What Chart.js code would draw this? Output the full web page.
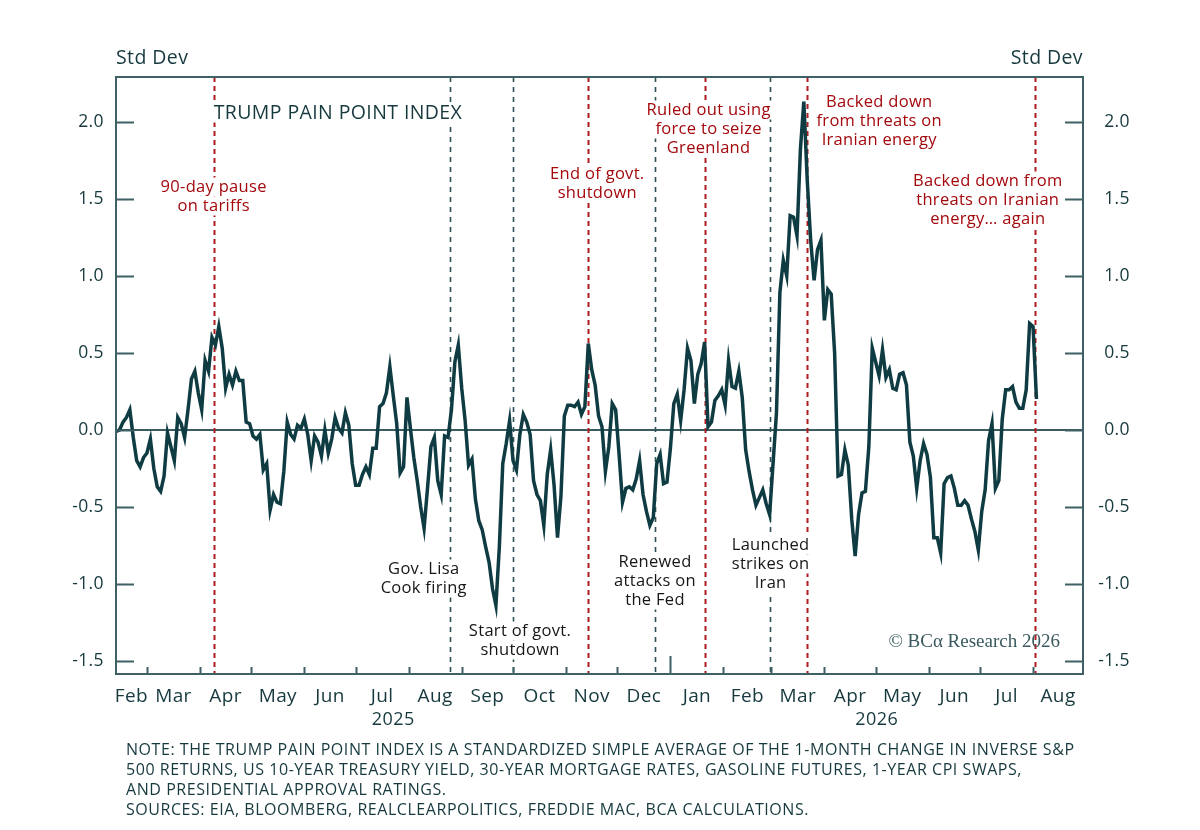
<!DOCTYPE html>
<html>
<head>
<meta charset="utf-8">
<script src="https://cdn.jsdelivr.net/npm/chart.js@4.4.1/dist/chart.umd.min.js"></script>
<style>
  html, body { margin: 0; padding: 0; background: #fff; }
  #wrap { position: relative; width: 1200px; height: 830px; }
  #note {
    position: absolute; left: 126px; top: 739px;
    font-family: "Open Sans", Lato, sans-serif; font-weight: 500; font-size: 16px; line-height: 20px;
    letter-spacing: 0.55px; color: #16393e; white-space: nowrap;
  }
</style>
</head>
<body>
<div id="wrap">
  <canvas id="chart" width="1200" height="830"></canvas>
  <div id="note">
    NOTE: THE TRUMP PAIN POINT INDEX IS A STANDARDIZED SIMPLE AVERAGE OF THE 1-MONTH CHANGE IN INVERSE S&amp;P<br>
    500 RETURNS, US 10-YEAR TREASURY YIELD, 30-YEAR MORTGAGE RATES, GASOLINE FUTURES, 1-YEAR CPI SWAPS,<br>
    AND PRESIDENTIAL APPROVAL RATINGS.<br>
    SOURCES: EIA, BLOOMBERG, REALCLEARPOLITICS, FREDDIE MAC, BCA CALCULATIONS.
  </div>
</div>
<script>
// days are counted from 1 Jan 2025; one reading every 2 days
const startDay = 41;
const stepDays = 2;
const painIndex = [
  -0.01, 0.00, 0.05, 0.08, 0.13, -0.05, -0.20, -0.24, -0.18, -0.15,
  -0.06, -0.25, -0.37, -0.40, -0.30, -0.02, -0.11, -0.20, 0.08, 0.04,
  -0.05, 0.13, 0.33, 0.38, 0.24, 0.13, 0.45, 0.38, 0.60, 0.55,
  0.67, 0.53, 0.27, 0.36, 0.29, 0.38, 0.32, 0.32, 0.05, 0.04,
  -0.04, -0.06, -0.03, -0.26, -0.22, -0.52, -0.42, -0.47, -0.48, -0.27,
  0.05, -0.03, -0.06, 0.03, 0.01, 0.07, -0.03, -0.20,
  -0.04, -0.08, -0.17, 0.00, -0.15, -0.06, 0.08, 0.01, -0.02, 0.11,
  0.03, -0.22, -0.36, -0.36, -0.29, -0.24, -0.29, -0.12, -0.12, 0.15,
  0.17, 0.24, 0.41, 0.22, 0.04, -0.28, -0.24, 0.21, 0.01, -0.18,
  -0.33, -0.50, -0.64, -0.38, -0.11, -0.05, -0.33, -0.42, -0.04, -0.05,
  0.13, 0.44, 0.55, 0.27, 0.06, -0.23, -0.19, -0.45, -0.59, -0.65,
  -0.76, -0.86, -1.03, -1.14, -0.76, -0.22,
  -0.09, 0.06, -0.20, -0.26, -0.03, 0.10,
  0.05, -0.03, -0.33, -0.42, -0.46, -0.62, -0.29, -0.13, -0.36, -0.70,
  -0.43, 0.09, 0.16, 0.16, 0.15, 0.18, 0.10, 0.15, 0.56, 0.39,
  0.29, 0.09, 0.02, -0.27, -0.11, 0.17, 0.13, -0.16, -0.47, -0.38,
  -0.37, -0.39, -0.32, -0.20, -0.42, -0.53, -0.62, -0.57, -0.22, -0.16,
  -0.35, -0.34, -0.12, 0.17, 0.23, 0.06, 0.26, 0.53, 0.45, 0.17,
  0.36, 0.43, 0.57, 0.02, 0.05, 0.19, 0.22, 0.26, 0.16, 0.45,
  0.28, 0.27, 0.38, 0.21, -0.13, -0.27, -0.39, -0.49, -0.44, -0.39,
  -0.48, -0.55, -0.22, 0.11, 0.89, 1.10, 1.00, 1.39, 1.38, 1.26,
  1.82, 2.13, 1.62, 1.23, 0.97, 1.17, 1.23, 0.71, 0.91, 0.88,
  0.50, -0.30, -0.29, -0.13, -0.23, -0.58, -0.82, -0.55, -0.41, -0.40,
  -0.11, 0.53, 0.44, 0.35, 0.52, 0.34, 0.39, 0.27, 0.26, 0.36,
  0.37, 0.29, -0.08, -0.17, -0.38, -0.20, -0.09, -0.16, -0.31, -0.70,
  -0.70, -0.80, -0.35, -0.31, -0.30, -0.38, -0.49, -0.49, -0.46, -0.49,
  -0.58, -0.66, -0.78, -0.53, -0.39, -0.07, 0.04, -0.38, -0.33, 0.07,
  0.26, 0.26, 0.28, 0.18, 0.14, 0.14, 0.26, 0.69, 0.67, 0.20
];

const monthStarts = [31, 59, 90, 120, 151, 181, 212, 243, 273, 304, 334, 365,
                     396, 424, 455, 485, 516, 546, 577, 608];
const monthNames = ['Feb', 'Mar', 'Apr', 'May', 'Jun', 'Jul', 'Aug', 'Sep', 'Oct', 'Nov', 'Dec', 'Jan',
                    'Feb', 'Mar', 'Apr', 'May', 'Jun', 'Jul', 'Aug'];
const years = ['2025', '2026'];
const yearStarts = [0, 365, 730];
const yTicks = [-1.5, -1.0, -0.5, 0.0, 0.5, 1.0, 1.5, 2.0];

const eventDays = [98, 236, 273, 317, 356, 385, 423, 445, 578];
const eventRelief = [true, false, false, true, false, true, false, true, true];
const eventText = [
  ['90-day pause', 'on tariffs'],
  ['Gov. Lisa', 'Cook firing'],
  ['Start of govt.', 'shutdown'],
  ['End of govt.', 'shutdown'],
  ['Renewed', 'attacks on', 'the Fed'],
  ['Ruled out using', 'force to seize', 'Greenland'],
  ['Launched', 'strikes on', 'Iran'],
  ['Backed down', 'from threats on', 'Iranian energy'],
  ['Backed down from', 'threats on Iranian', 'energy\u2026 again']
];
// [shift from the event line in px, centre of first text line]
const labelSpots = [[0, 187], [-26, 569], [7, 631], [9, 174], [0, 562], [4, 110], [1, 545], [72, 102], [-47, 181]];

const xMin = 40.9, xMax = 606.2;
const TEAL = '#16393e';
const LINE = '#0f3b42';
const FRAME = '#3f6166';
const RED_TXT = '#a3080c';
const RED_DASH = '#b01c20';
const DARK_DASH = '#2d4f55';
const FONT = '"Open Sans", Lato, sans-serif';

const points = painIndex.map((v, i) => ({ x: startDay + i * stepDays, y: v }));

// month labels sit in the middle of each (visible part of the) month
const monthMid = monthNames.map((m, i) =>
  (Math.max(monthStarts[i], xMin) + Math.min(monthStarts[i + 1], xMax)) / 2);

function boxedText(ctx, txt, x, y, align) {
  const w = ctx.measureText(txt).width;
  const h = 19;
  const left = align === 'left' ? x : x - w / 2;
  ctx.fillStyle = '#fff';
  ctx.fillRect(left - 3, y - h / 2, w + 6, h);
  ctx.fillStyle = ctx._txtColor;
  ctx.textAlign = align;
  ctx.fillText(txt, x, y);
}

const overlay = {
  id: 'overlay',
  beforeDraw(chart) {
    // the house font runs wide; a touch of tracking gets close to it
    chart.ctx.letterSpacing = '0.4px';
  },
  beforeDatasetsDraw(chart) {
    const { ctx, chartArea: a, scales: { x } } = chart;
    ctx.save();
    eventDays.forEach((d, i) => {
      const px = Math.round(x.getPixelForValue(d)) + 0.5;
      ctx.beginPath();
      ctx.setLineDash(eventRelief[i] ? [5, 4] : [5, 5]);
      ctx.strokeStyle = eventRelief[i] ? RED_DASH : DARK_DASH;
      ctx.lineWidth = eventRelief[i] ? 2 : 1.6;
      ctx.moveTo(px, a.top);
      ctx.lineTo(px, a.bottom);
      ctx.stroke();
    });
    ctx.setLineDash([]);
    ctx.textBaseline = 'middle';

    ctx.font = '500 19.5px ' + FONT;
    ctx._txtColor = TEAL;
    boxedText(ctx, 'TRUMP PAIN POINT INDEX', x.getPixelForValue(eventDays[0]), 113, 'left');

    ctx.font = '500 16.5px ' + FONT;
    ctx.letterSpacing = '0.3px';
    eventText.forEach((lines, i) => {
      const cx = x.getPixelForValue(eventDays[i]) + labelSpots[i][0];
      ctx._txtColor = eventRelief[i] ? RED_TXT : '#161616';
      lines.forEach((t, k) => boxedText(ctx, t, cx, labelSpots[i][1] + k * 19, 'center'));
    });
    ctx.restore();
  },
  afterDatasetsDraw(chart) {
    const { ctx, chartArea: a, scales: { x, y } } = chart;
    ctx.save();
    ctx.strokeStyle = FRAME;
    ctx.lineWidth = 2;
    ctx.strokeRect(a.left, a.top, a.right - a.left, a.bottom - a.top);

    ctx.beginPath();
    yTicks.forEach(v => {
      const py = Math.round(y.getPixelForValue(v)) + 0.5;
      ctx.moveTo(a.left, py); ctx.lineTo(a.left + 18, py);
      ctx.moveTo(a.right - 18, py); ctx.lineTo(a.right, py);
    });
    monthStarts.forEach(d => {
      if (d <= xMin || d >= xMax) return;
      const px = Math.round(x.getPixelForValue(d)) + 0.5;
      const len = yearStarts.includes(d) ? 18 : 7;
      ctx.moveTo(px, a.bottom); ctx.lineTo(px, a.bottom - len);
    });
    ctx.stroke();

    ctx.fillStyle = TEAL;
    ctx.textBaseline = 'middle';
    ctx.font = '500 19.5px ' + FONT;
    ctx.textAlign = 'left';
    ctx.fillText('Std Dev', a.left, 58);
    ctx.textAlign = 'right';
    ctx.fillText('Std Dev', a.right, 58);

    ctx.font = '500 18px ' + FONT;
    ctx.textAlign = 'center';
    years.forEach((yr, i) => {
      const mid = (Math.max(yearStarts[i], xMin) + Math.min(yearStarts[i + 1], xMax)) / 2;
      ctx.fillText(yr, x.getPixelForValue(mid), 720);
    });

    ctx.letterSpacing = '0px';
    ctx.fillStyle = '#3a5a5f';
    ctx.font = '19px "Liberation Serif", "DejaVu Serif", serif';
    ctx.textAlign = 'right';
    ctx.fillText('\u00a9 BC\u03b1 Research 2026', a.right - 23, 642);
    ctx.restore();
  }
};

new Chart(document.getElementById('chart'), {
  type: 'line',
  data: {
    datasets: [{
      label: 'Trump Pain Point Index',
      data: points,
      borderColor: LINE,
      borderWidth: 3.5,
      pointRadius: 0,
      tension: 0,
      fill: false
    }]
  },
  options: {
    responsive: false,
    animation: false,
    layout: { padding: { top: 77, right: 70, left: 0, bottom: 0 } },
    plugins: { legend: { display: false }, tooltip: { enabled: false } },
    scales: {
      x: {
        type: 'linear', min: xMin, max: xMax,
        afterBuildTicks: s => { s.ticks = monthMid.map(v => ({ value: v })); },
        afterFit: s => { s.height = 156; },
        ticks: {
          autoSkip: false, maxRotation: 0, padding: 11, color: TEAL,
          font: { family: FONT, size: 19, weight: '500' },
          callback: (v, i) => monthNames[i]
        },
        grid: { display: false, drawTicks: false },
        border: { display: false }
      },
      y: {
        position: 'left', min: -1.585, max: 2.29,
        afterBuildTicks: s => { s.ticks = yTicks.map(v => ({ value: v })); },
        afterFit: s => { s.width = 116; },
        ticks: {
          padding: 12, color: TEAL, font: { family: FONT, size: 17.5, weight: '500' },
          callback: v => v.toFixed(1)
        },
        grid: {
          drawTicks: false, lineWidth: 2,
          color: c => (c.tick && c.tick.value === 0 ? '#3a5c61' : 'rgba(0,0,0,0)')
        },
        border: { display: false }
      },
      y2: {
        position: 'right', min: -1.585, max: 2.29,
        afterBuildTicks: s => { s.ticks = yTicks.map(v => ({ value: v })); },
        afterFit: s => { s.width = 47; },
        ticks: {
          crossAlign: 'far', color: TEAL, font: { family: FONT, size: 17.5, weight: '500' },
          callback: v => v.toFixed(1)
        },
        grid: { display: false, drawTicks: false },
        border: { display: false }
      }
    }
  },
  plugins: [overlay]
});
</script>
</body>
</html>
